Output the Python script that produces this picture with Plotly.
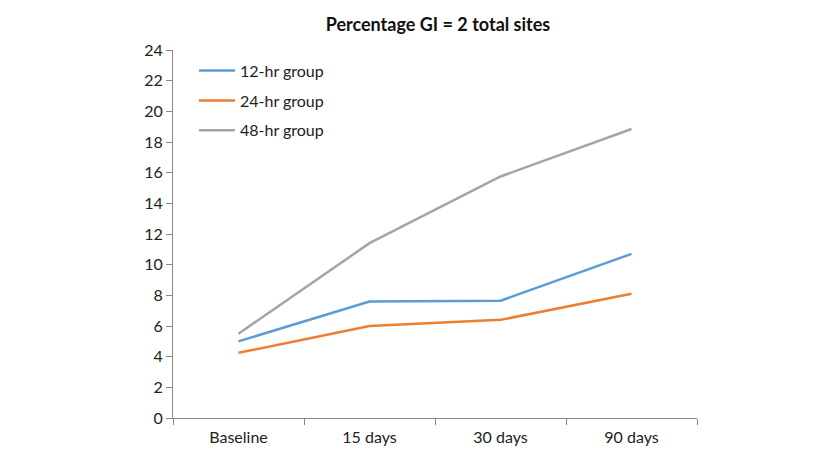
import plotly.graph_objects as go

categories = ["Baseline", "15 days", "30 days", "90 days"]
group_12 = [5.0, 7.6, 7.65, 10.7]
group_24 = [4.25, 6.0, 6.4, 8.1]
group_48 = [5.5, 11.4, 15.75, 18.85]
series_names = ["12-hr group", "24-hr group", "48-hr group"]
colors = ["#5B9BD5", "#ED7D31", "#A5A5A5"]
y_ticks = list(range(0, 25, 2))

fig = go.Figure()
for name, vals, col in zip(series_names, [group_12, group_24, group_48], colors):
    fig.add_trace(go.Scatter(x=categories, y=vals, mode="lines", name=name, legendgroup=name,
                             line=dict(color=col, width=2.5)))

font_family = "Lato, 'Open Sans', sans-serif"
fig.update_layout(
    width=819, height=452,
    margin=dict(l=165, r=130, t=42, b=42),
    paper_bgcolor="white", plot_bgcolor="white",
    title=dict(text="<b>Percentage GI = 2 total sites</b>", x=0.525, xanchor="center",
               y=0.962, yanchor="middle", font=dict(family=font_family, size=18, color="#111")),
    font=dict(family=font_family, size=16, color="#222"),
    legend=dict(x=0.04, y=0.99, xanchor="left", yanchor="top", bgcolor="rgba(0,0,0,0)",
                font=dict(size=16, color="#222"), tracegroupgap=6, itemwidth=36),
    showlegend=True,
)
fig.update_xaxes(type="category", range=[-0.5, 3.5], showgrid=False, showline=True,
                 linecolor="#888", linewidth=1, ticks="outside", tickson="boundaries",
                 ticklen=6, tickcolor="#888", tickfont=dict(size=16), ticklabelstandoff=5)
fig.update_yaxes(range=[0, 24], tickvals=y_ticks, showgrid=False, showline=True,
                 linecolor="#888", linewidth=1, ticks="outside", ticklen=6, tickcolor="#888",
                 tickfont=dict(size=16), zeroline=False)

fig.write_html("out.html")
